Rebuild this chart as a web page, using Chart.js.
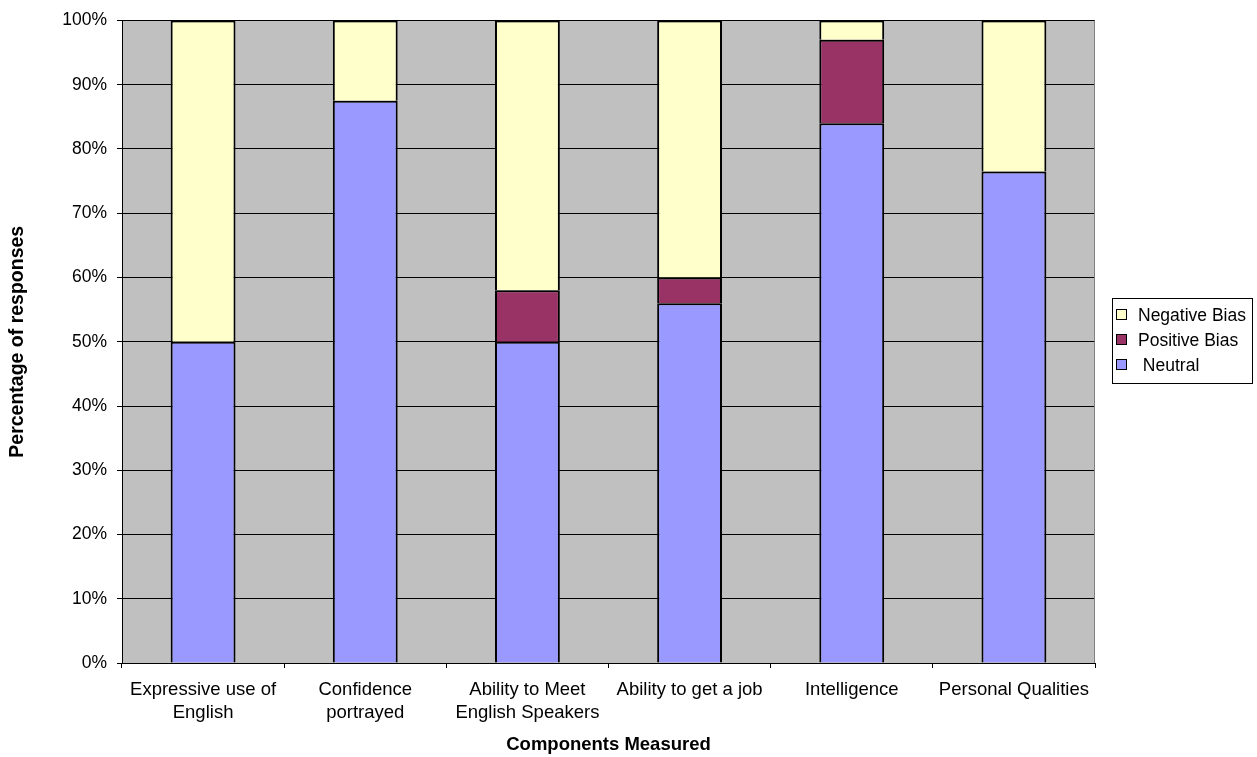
<!DOCTYPE html>
<html>
<head>
<meta charset="utf-8">
<script src="https://cdn.jsdelivr.net/npm/chart.js@4/dist/chart.umd.min.js"></script>
<style>
  html, body { margin: 0; padding: 0; background: #ffffff; }
  #wrap { width: 1257px; height: 757px; }
</style>
</head>
<body>
<div id="wrap"><canvas id="chart" width="1257" height="757"></canvas></div>
<script>
// Components measured (x categories)
const categories = [
  ['Expressive use of', 'English'],
  ['Confidence', 'portrayed'],
  ['Ability to Meet', 'English Speakers'],
  'Ability to get a job',
  'Intelligence',
  'Personal Qualities'
];

// Series names
const seriesNames = [' Neutral', 'Positive Bias', 'Negative Bias'];

// Share of responses per component, in percent
const neutral      = [50, 87.5, 50, 56, 84, 76.5];
const positiveBias = [null, null, 8, 4, 13, null];
const negativeBias = [50, 12.5, 42, 40, 3, 23.5];

// Y axis ticks
const yMin = 0;
const yMax = 100;
const yStep = 10;

const FONT = '"Liberation Sans", Arial, Helvetica, sans-serif';
Chart.defaults.font.family = FONT;
Chart.defaults.color = '#000000';

const barStyle = {
  borderColor: '#000000',
  borderWidth: { left: 2, right: 2, top: 2, bottom: 0 },
  borderSkipped: false,
  barPercentage: 0.4,
  categoryPercentage: 1.0
};

// Grey plot background, grey right frame edge, and the boxed legend
const plotDecor = {
  id: 'plotDecor',
  beforeDraw(chart) {
    const { ctx, chartArea: a } = chart;
    ctx.save();
    ctx.fillStyle = '#C0C0C0';
    ctx.fillRect(a.left, a.top, a.right - a.left, a.bottom - a.top);
    ctx.restore();
  },
  beforeDatasetsDraw(chart) {
    const { ctx, chartArea: a } = chart;
    ctx.save();
    ctx.strokeStyle = '#808080';
    ctx.lineWidth = 1;
    ctx.beginPath();
    ctx.moveTo(Math.round(a.right) - 0.5, a.top);
    ctx.lineTo(Math.round(a.right) - 0.5, a.bottom);
    ctx.stroke();
    ctx.restore();
  },
  afterDraw(chart) {
    const { ctx } = chart;
    const box = { x: 1112, y: 298, w: 140, h: 85 };
    const rowH = 25;
    ctx.save();
    ctx.fillStyle = '#ffffff';
    ctx.fillRect(box.x, box.y, box.w, box.h);
    ctx.strokeStyle = '#000000';
    ctx.lineWidth = 1;
    ctx.strokeRect(box.x + 0.5, box.y + 0.5, box.w, box.h);
    ctx.font = '17.5px ' + FONT;
    ctx.textBaseline = 'middle';
    ctx.textAlign = 'left';
    const sets = chart.data.datasets.slice().reverse();
    sets.forEach((ds, i) => {
      const cy = box.y + 17 + i * rowH;
      ctx.fillStyle = ds.backgroundColor;
      ctx.fillRect(box.x + 4, cy - 5, 10, 10);
      ctx.strokeStyle = '#000000';
      ctx.strokeRect(box.x + 4.5, cy - 5.5, 10, 10);
      ctx.fillStyle = '#000000';
      ctx.fillText(ds.label, box.x + 26, cy + 1);
    });
    ctx.restore();
  }
};

new Chart(document.getElementById('chart'), {
  type: 'bar',
  data: {
    labels: categories,
    datasets: [
      Object.assign({ label: seriesNames[0], data: neutral, backgroundColor: '#9999FF' }, barStyle),
      Object.assign({ label: seriesNames[1], data: positiveBias, backgroundColor: '#993366' }, barStyle),
      Object.assign({ label: seriesNames[2], data: negativeBias, backgroundColor: '#FFFFCC' }, barStyle)
    ]
  },
  options: {
    responsive: false,
    animation: false,
    devicePixelRatio: 1,
    layout: { padding: { left: 0, right: 162, top: 16.5, bottom: 0 } },
    plugins: {
      legend: { display: false },
      tooltip: { enabled: false }
    },
    scales: {
      x: {
        stacked: true,
        offset: true,
        grid: {
          offset: true,
          drawOnChartArea: false,
          drawTicks: true,
          tickLength: 5,
          color: '#000000',
          lineWidth: 1
        },
        border: { display: true, color: '#000000', width: 1 },
        ticks: {
          font: { size: 18.5, lineHeight: 1.25 },
          color: '#000000',
          padding: 10,
          maxRotation: 0,
          autoSkip: false
        },
        title: {
          display: true,
          text: 'Components Measured',
          font: { size: 18.5, weight: 'bold' },
          color: '#000000',
          padding: { top: 0, bottom: 1 }
        },
        afterFit(scale) { scale.height = 94; }
      },
      y: {
        stacked: true,
        min: yMin,
        max: yMax,
        grid: {
          color: '#000000',
          lineWidth: 1,
          drawTicks: true,
          tickLength: 5
        },
        border: { display: true, color: '#000000', width: 1 },
        ticks: {
          stepSize: yStep,
          font: { size: 17.5 },
          color: '#000000',
          padding: 10,
          callback: (v) => v + '%'
        },
        title: {
          display: true,
          text: 'Percentage of responses',
          font: { size: 19.5, weight: 'bold' },
          color: '#000000',
          padding: { top: 6, bottom: 0 }
        },
        afterFit(scale) { scale.width = 122; }
      }
    }
  },
  plugins: [plotDecor]
});
</script>
</body>
</html>
